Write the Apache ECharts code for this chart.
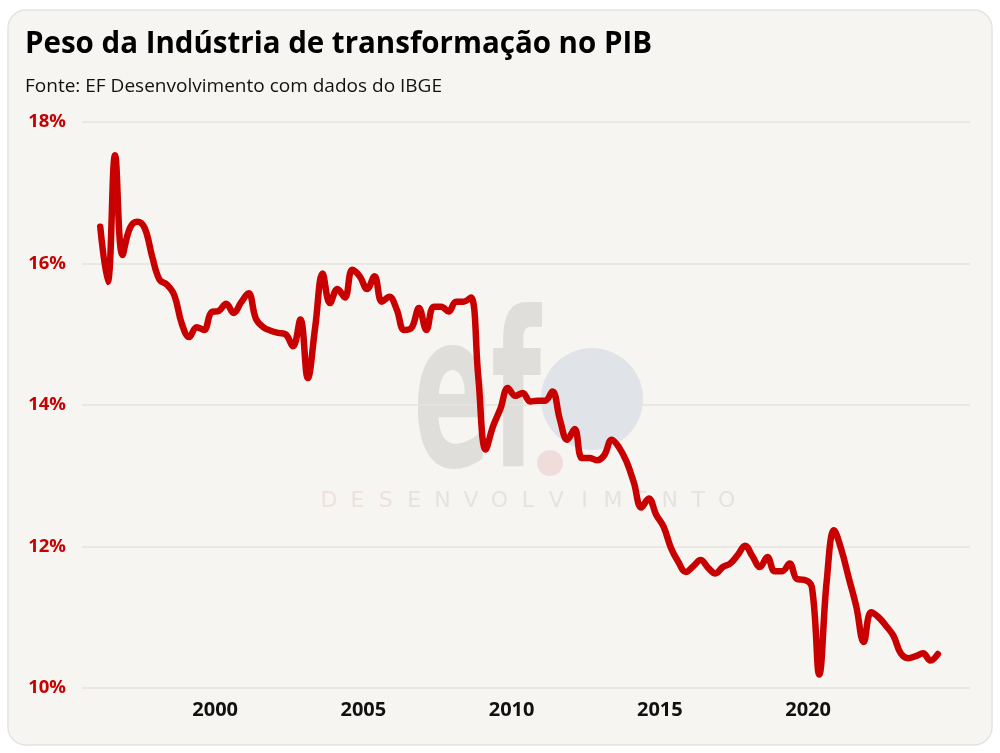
<!DOCTYPE html>
<html>
<head>
<meta charset="utf-8">
<script src="https://cdn.jsdelivr.net/npm/echarts@6/dist/echarts.min.js"></script>
<style>
html,body{margin:0;padding:0;background:#ffffff;}
#chart{width:1000px;height:753px;}
</style>
</head>
<body>
<div id="chart"></div>
<script>
// Quarterly series: first value is 1996 Q1, last is 2024 Q2
const firstYear = 1996;
const firstQuarter = 1;
const values = [
  16.52, 15.74, 17.53, 16.12, 16.50, 16.59, 16.50, 16.10,
  15.77, 15.70, 15.55, 15.15, 14.96, 15.10, 15.06, 15.31,
  15.33, 15.43, 15.30, 15.45, 15.58, 15.22, 15.10, 15.05,
  15.02, 15.00, 14.83, 15.21, 14.38, 15.10, 15.86, 15.44,
  15.64, 15.52, 15.91, 15.82, 15.64, 15.82, 15.46, 15.53,
  15.35, 15.06, 15.09, 15.37, 15.06, 15.39, 15.39, 15.32,
  15.46, 15.46, 15.52, 14.40, 13.37, 13.70, 13.95, 14.24,
  14.13, 14.17, 14.05, 14.06, 14.06, 14.19, 13.80, 13.51,
  13.66, 13.25, 13.25, 13.22, 13.29, 13.51, 13.40, 13.20,
  12.90, 12.55, 12.68, 12.45, 12.28, 11.98, 11.78, 11.64,
  11.72, 11.81, 11.70, 11.62, 11.71, 11.76, 11.88, 12.01,
  11.86, 11.71, 11.85, 11.65, 11.65, 11.76, 11.54, 11.53,
  11.43, 10.19, 11.50, 12.23, 11.95, 11.55, 11.15, 10.65,
  11.07, 11.00, 10.88, 10.74, 10.49, 10.42, 10.45, 10.49,
  10.39, 10.48
];
const xTickYears = [2000, 2005, 2010, 2015, 2020];
const yTicks = [10, 12, 14, 16, 18];

const titleText = 'Peso da Indústria de transformação no PIB';
const subtitleText = 'Fonte: EF Desenvolvimento com dados do IBGE';
const watermarkLogo = 'ef';
const watermarkWord = 'DESENVOLVIMENTO';

// Position each quarter at its mid-point in time
const seriesData = values.map((v, i) => {
  const q = firstQuarter - 1 + i;
  const year = firstYear + Math.floor(q / 4);
  const quarter = (q % 4) + 1;
  return [year + (quarter - 0.5) / 4, v];
});

const measureCtx = document.createElement('canvas').getContext('2d');
function textWidth(txt, font) { measureCtx.font = font; return measureCtx.measureText(txt).width; }

const titleFont = 'bold 29.5px "Open Sans", sans-serif';
const subFont = '17.5px "Open Sans", sans-serif';
const logoFont = 'bold 215px "DejaVu Sans", sans-serif';
const titleScale = 627 / textWidth(titleText, titleFont);
const subScale = 417 / textWidth(subtitleText, subFont);
const logoScale = 128 / textWidth(watermarkLogo, logoFont);

const red = '#c80000';

const graphics = [
  {type: 'rect', z: -10, silent: true,
    shape: {x: 8, y: 10, width: 984, height: 735, r: 18},
    style: {fill: '#f6f5f1', stroke: '#e4e3de', lineWidth: 1.5}},
  {type: 'circle', z: -6, silent: true,
    shape: {cx: 592, cy: 399, r: 51}, style: {fill: '#e0e3e7'}},
  {type: 'text', z: -5, silent: true, x: 413, y: 303, scaleX: logoScale,
    style: {text: watermarkLogo, font: logoFont, fill: '#dfdedb', verticalAlign: 'top'}},
  {type: 'circle', z: -4, silent: true,
    shape: {cx: 550, cy: 463, r: 13}, style: {fill: '#f1dcdc'}},
  {type: 'text', x: 25, y: 30, scaleX: titleScale,
    style: {text: titleText, font: titleFont, fill: '#000000', verticalAlign: 'top'}},
  {type: 'text', x: 25, y: 78, scaleX: subScale,
    style: {text: subtitleText, font: subFont, fill: '#111111', verticalAlign: 'top'}}
];
watermarkWord.split('').forEach((ch, i) => {
  graphics.push({type: 'text', z: -5, silent: true, x: 329 + i * 28.4, y: 501,
    style: {text: ch, font: '22px "DejaVu Sans", sans-serif', fill: i < 3 ? '#efdfdf' : '#e4e3e0',
      align: 'center', verticalAlign: 'middle'}});
});

const chart = echarts.init(document.getElementById('chart'), null, {renderer: 'canvas'});
chart.setOption({
  backgroundColor: '#ffffff',
  animation: false,
  graphic: graphics,
  grid: {left: 82, right: 30, top: 122, bottom: 65},
  xAxis: {
    type: 'value',
    min: 1995.51,
    max: 2025.46,
    axisLine: {show: false},
    axisTick: {show: false},
    splitLine: {show: false},
    axisLabel: {
      customValues: xTickYears,
      formatter: v => String(v),
      color: '#111111',
      fontWeight: 'bold',
      fontSize: 20,
      fontFamily: '"Open Sans", sans-serif',
      margin: 12
    }
  },
  yAxis: {
    type: 'value',
    min: 10,
    max: 18,
    interval: 2,
    axisLine: {show: false},
    axisTick: {show: false},
    splitLine: {lineStyle: {color: '#e4e3df', width: 1.5}},
    axisLabel: {
      formatter: v => yTicks.includes(v) ? v + '%' : '',
      color: red,
      fontWeight: 'bold',
      fontSize: 18.5,
      fontFamily: '"Open Sans", sans-serif',
      margin: 16
    }
  },
  series: [{
    type: 'line',
    data: seriesData,
    smooth: 0.4,
    showSymbol: false,
    lineStyle: {color: red, width: 6.5, cap: 'round', join: 'round'},
    emphasis: {disabled: true}
  }]
});
</script>
</body>
</html>
